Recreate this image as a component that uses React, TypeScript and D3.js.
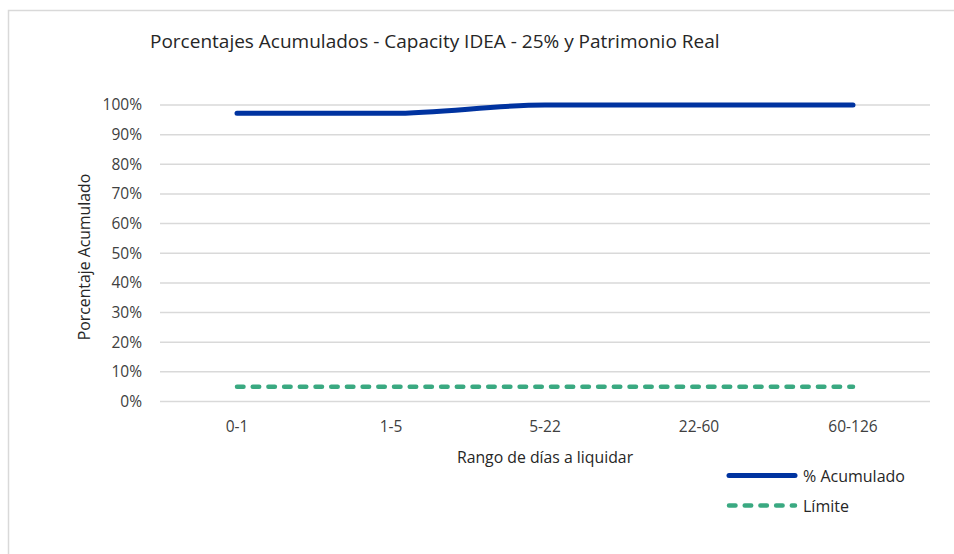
import React, { useEffect, useRef } from "react";
import * as d3 from "d3";

const categories = ["0-1", "1-5", "5-22", "22-60", "60-126"];
const acumulado = [0.972, 0.972, 1.0, 1.0, 1.0];
const limite = [0.05, 0.05, 0.05, 0.05, 0.05];
const yTicks = [0, 0.1, 0.2, 0.3, 0.4, 0.5, 0.6, 0.7, 0.8, 0.9, 1.0];

const title = "Porcentajes Acumulados - Capacity IDEA - 25% y Patrimonio Real";
const xTitle = "Rango de días a liquidar";
const yTitle = "Porcentaje Acumulado";
const seriesNames = ["% Acumulado", "Límite"];

const W = 954;
const H = 554;
const FONT = "'Open Sans', 'Noto Sans', sans-serif";
const BLUE = "#0033a0";
const GREEN = "#3aa981";
const DASH = "6.5,9.2";

export default function App() {
  const ref = useRef<SVGSVGElement>(null);

  useEffect(() => {
    const svg = d3.select(ref.current);
    svg.selectAll("*").remove();

    // chart frame
    svg.append("rect")
      .attr("x", 8.5).attr("y", 10.5)
      .attr("width", 960).attr("height", 560)
      .attr("fill", "#fff").attr("stroke", "#d9d9d9").attr("stroke-width", 1.5);

    const x = d3.scaleBand().domain(categories).range([160, 930]);
    const y = d3.scaleLinear().domain([0, 1]).range([401.5, 105]);

    svg.append("text")
      .attr("x", 150).attr("y", 48)
      .attr("font-family", FONT).attr("font-size", 19).attr("fill", "#262626")
      .text(title);

    // grid
    svg.append("g").selectAll("line").data(yTicks).join("line")
      .attr("x1", 160).attr("x2", 930)
      .attr("y1", d => y(d)).attr("y2", d => y(d))
      .attr("stroke", "#d9d9d9").attr("stroke-width", 1.5);

    const yAxis = svg.append("g").attr("transform", "translate(160,0)")
      .call(d3.axisLeft(y).tickValues(yTicks).tickFormat(d3.format(".0%")).tickSize(0).tickPadding(18));
    yAxis.select(".domain").remove();
    yAxis.selectAll("text")
      .attr("font-family", FONT).attr("font-size", 15.5).attr("fill", "#404040");

    const xAxis = svg.append("g").attr("transform", "translate(0,401.5)")
      .call(d3.axisBottom(x).tickSize(0).tickPadding(19));
    xAxis.select(".domain").remove();
    xAxis.selectAll("text")
      .attr("font-family", FONT).attr("font-size", 15.5).attr("fill", "#404040");

    svg.append("text")
      .attr("x", (160 + 930) / 2).attr("y", 463)
      .attr("text-anchor", "middle")
      .attr("font-family", FONT).attr("font-size", 15.8).attr("fill", "#262626")
      .text(xTitle);

    svg.append("text")
      .attr("transform", "translate(90,257) rotate(-90)")
      .attr("text-anchor", "middle")
      .attr("font-family", FONT).attr("font-size", 15.8).attr("fill", "#262626")
      .text(yTitle);

    const cx = (c: string) => (x(c) as number) + x.bandwidth() / 2;

    const smooth = d3.line<number>()
      .x((_, i) => cx(categories[i]))
      .y(d => y(d))
      .curve(d3.curveMonotoneX);

    svg.append("path").datum(limite)
      .attr("d", smooth)
      .attr("fill", "none").attr("stroke", GREEN).attr("stroke-width", 4.5)
      .attr("stroke-dasharray", DASH).attr("stroke-linecap", "round");

    svg.append("path").datum(acumulado)
      .attr("d", smooth)
      .attr("fill", "none").attr("stroke", BLUE).attr("stroke-width", 5)
      .attr("stroke-linecap", "round");

    // legend
    const legend = svg.append("g");
    const items = [
      { name: seriesNames[0], color: BLUE, dash: null as string | null, y: 475.5 },
      { name: seriesNames[1], color: GREEN, dash: DASH, y: 505.5 },
    ];
    items.forEach(it => {
      legend.append("line")
        .attr("x1", 729).attr("x2", 795)
        .attr("y1", it.y).attr("y2", it.y)
        .attr("stroke", it.color).attr("stroke-width", it.dash ? 4.5 : 5)
        .attr("stroke-linecap", "round")
        .attr("stroke-dasharray", it.dash);
      legend.append("text")
        .attr("x", 803).attr("y", it.y + 6)
        .attr("font-family", FONT).attr("font-size", 16).attr("fill", "#262626")
        .text(it.name);
    });
  }, []);

  return (
    <svg ref={ref} width={W} height={H}
      style={{ position: "absolute", left: 0, top: 0, display: "block" }} />
  );
}
